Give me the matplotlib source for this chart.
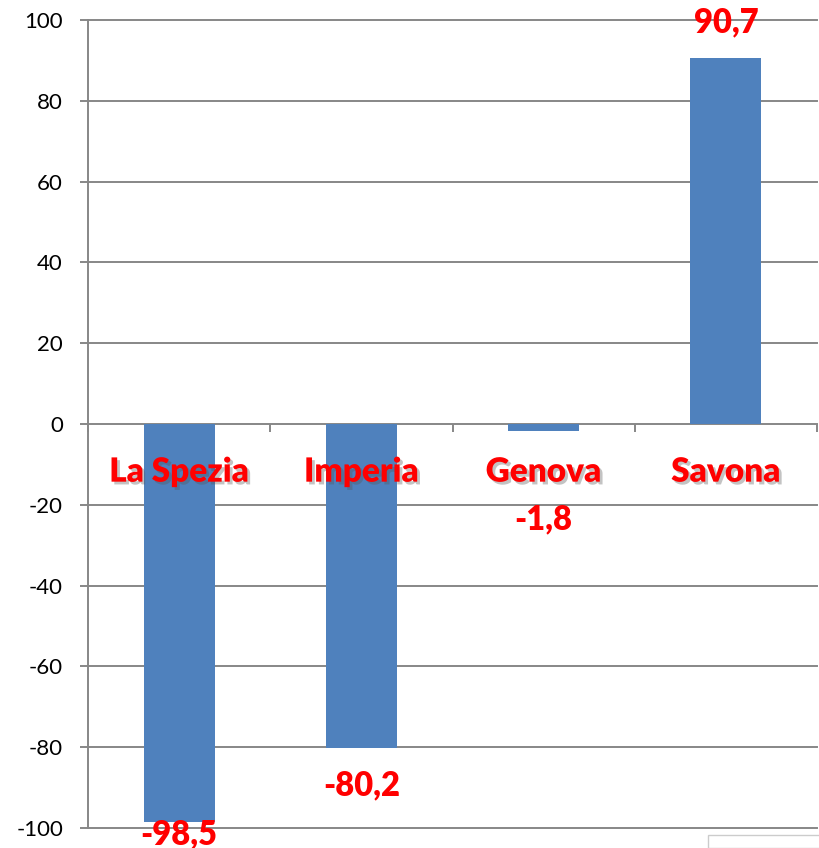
import matplotlib
matplotlib.use("Agg")
import matplotlib.pyplot as plt
import matplotlib.patheffects as pe
import numpy as np

# data
provinces = ["La Spezia", "Imperia", "Genova", "Savona"]
values = [-98.5, -80.2, -1.8, 90.7]
value_labels = ["-98,5", "-80,2", "-1,8", "90,7"]
yticks = [-100, -80, -60, -40, -20, 0, 20, 40, 60, 80, 100]

# where the value labels sit (data units)
label_y = [-101.5, -89.5, -23.5, 99.3]
cat_label_y = -11.8

plt.rcParams["font.family"] = ["Lato", "DejaVu Sans"]
plt.rcParams["axes.unicode_minus"] = False

bar_col = "#4F81BD"
grid_col = "#878787"
red = "#FF0000"

fig = plt.figure(figsize=(8.19, 8.48), dpi=100)
ax = fig.add_axes([88 / 819, 1 - 828 / 848, 729 / 819, 808 / 848])

x = np.arange(len(provinces))
ax.bar(x, values, width=0.39, color=bar_col, zorder=3)

ax.set_xlim(-0.5, len(provinces) - 0.5)
ax.set_ylim(-100, 100)
ax.set_yticks(yticks)
ax.set_yticklabels([str(t) for t in yticks])
ax.set_xticks([])

for t in yticks:
    ax.axhline(t, color=grid_col, lw=1.4, zorder=1, clip_on=False)

# category separator ticks on the zero line
bounds = np.arange(len(provinces) + 1) - 0.5
ax.vlines(bounds, 0, -2.1, color=grid_col, lw=1.4, zorder=2, clip_on=False)

for s in ["top", "right", "bottom"]:
    ax.spines[s].set_visible(False)
ax.spines["left"].set_color(grid_col)
ax.spines["left"].set_linewidth(1.4)
ax.tick_params(axis="y", length=6, width=1.4, color=grid_col, pad=12,
               labelsize=16, labelcolor="black")

shadow = [pe.withSimplePatchShadow(offset=(2, -2), shadow_rgbFace="#555555", alpha=0.35)]
for i, name in enumerate(provinces):
    ax.text(x[i], cat_label_y, name, ha="center", va="center", color=red,
            fontsize=24, fontweight="heavy", zorder=5, path_effects=shadow)
    ax.text(x[i], label_y[i], value_labels[i], ha="center", va="center",
            color=red, fontsize=23.5, fontweight="heavy", zorder=5, clip_on=False)

# stray legend box at the bottom right corner
fig.patches.append(plt.Rectangle((708 / 819, 0), 0.2, 13 / 848, transform=fig.transFigure,
                                 facecolor="white", edgecolor="#cccccc", lw=1.0))

fig.savefig("out.png", dpi=100)
